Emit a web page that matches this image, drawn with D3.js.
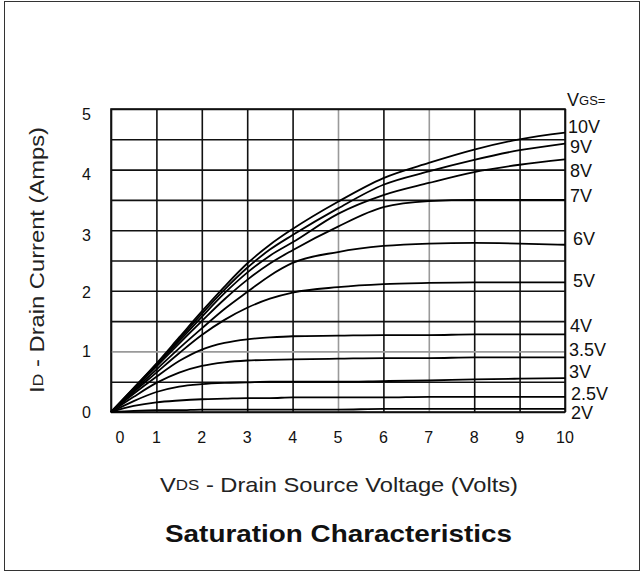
<!DOCTYPE html>
<html>
<head>
<meta charset="utf-8">
<script src="https://cdn.jsdelivr.net/npm/d3@7"></script>
<style>
html,body{margin:0;padding:0;background:#fff;}
svg{display:block;font-family:"Liberation Sans",Arial,sans-serif;}
</style>
</head>
<body>
<svg id="chart" width="644" height="573"></svg>
<script>
// ---- data ----
const vds = [0, 0.5, 1, 1.5, 2, 2.5, 3, 3.5, 4, 5, 6, 7, 8, 9, 10];
const vgsLabels = ["10V","9V","8V","7V","6V","5V","4V","3.5V","3V","2.5V","2V"];
const id10  = [0, 0.40, 0.80, 1.23, 1.66, 2.07, 2.45, 2.76, 3.02, 3.47, 3.86, 4.11, 4.33, 4.50, 4.61];
const id9   = [0, 0.39, 0.79, 1.20, 1.62, 2.02, 2.38, 2.68, 2.92, 3.36, 3.75, 3.97, 4.16, 4.32, 4.43];
const id8   = [0, 0.38, 0.77, 1.17, 1.57, 1.96, 2.30, 2.58, 2.80, 3.27, 3.58, 3.78, 3.96, 4.08, 4.17];
const id7   = [0, 0.37, 0.75, 1.13, 1.50, 1.86, 2.18, 2.45, 2.67, 3.06, 3.38, 3.48, 3.50, 3.50, 3.50];
const id6   = [0, 0.35, 0.70, 1.05, 1.38, 1.70, 1.98, 2.25, 2.46, 2.64, 2.74, 2.78, 2.79, 2.78, 2.76];
const id5   = [0, 0.33, 0.65, 0.97, 1.27, 1.52, 1.72, 1.87, 1.97, 2.06, 2.11, 2.13, 2.14, 2.14, 2.14];
const id4   = [0, 0.30, 0.58, 0.84, 1.03, 1.14, 1.20, 1.23, 1.25, 1.26, 1.27, 1.27, 1.28, 1.28, 1.28];
const id35  = [0, 0.25, 0.48, 0.65, 0.76, 0.82, 0.85, 0.86, 0.87, 0.88, 0.89, 0.89, 0.90, 0.90, 0.90];
const id3   = [0, 0.18, 0.33, 0.42, 0.46, 0.48, 0.49, 0.50, 0.50, 0.50, 0.51, 0.52, 0.54, 0.55, 0.56];
const id25  = [0, 0.10, 0.16, 0.19, 0.21, 0.22, 0.23, 0.23, 0.24, 0.24, 0.24, 0.25, 0.25, 0.25, 0.25];
const id2   = [0, 0.02, 0.03, 0.03, 0.04, 0.04, 0.04, 0.04, 0.04, 0.04, 0.05, 0.05, 0.05, 0.05, 0.05];
const seriesValues = [id10, id9, id8, id7, id6, id5, id4, id35, id3, id25, id2];
const xTickLabels = [0,1,2,3,4,5,6,7,8,9,10];
const yTickLabels = [0,1,2,3,4,5];
const yGrid = [0,0.5,1,1.5,2,2.5,3,3.5,4,4.5,5];
const greyX = [5,7];
const greyY = [1];
// label positions (in Amps) at right side
const labelPos = [4.70, 4.37, 3.98, 3.56, 2.85, 2.16, 1.42, 1.02, 0.66, 0.30, -0.02];

// ---- layout ----
const svg = d3.select("#chart");
const L = 111, R = 565, T = 109, B = 412;
const x = d3.scaleLinear().domain([0,10]).range([L,R]);
const y = d3.scaleLinear().domain([0,5]).range([B,T]);

// outer frame
svg.append("rect").attr("x",4.5).attr("y",1.5).attr("width",635).attr("height",569)
  .attr("fill","none").attr("stroke","#333").attr("stroke-width",1);

// grid via axes
const gx = svg.append("g").attr("transform",`translate(0,${B})`)
  .call(d3.axisBottom(x).tickValues(xTickLabels).tickSize(-(B-T)).tickFormat(""));
gx.select(".domain").remove();
gx.selectAll(".tick line").attr("stroke", d => greyX.includes(d) ? "#9a9a9a" : "#111").attr("stroke-width",1.6);

const gy = svg.append("g").attr("transform",`translate(${L},0)`)
  .call(d3.axisLeft(y).tickValues(yGrid).tickSize(-(R-L)).tickFormat(""));
gy.select(".domain").remove();
gy.selectAll(".tick line").attr("stroke", d => greyY.includes(d) ? "#9a9a9a" : "#111").attr("stroke-width",1.6);

// frame of plot
svg.append("rect").attr("x",L).attr("y",T).attr("width",R-L).attr("height",B-T)
  .attr("fill","none").attr("stroke","#111").attr("stroke-width",1.6);

// tick labels
svg.append("g").selectAll("text").data(xTickLabels).join("text")
  .attr("x", d => d===0 ? x(d)+9 : x(d)).attr("y", 437)
  .attr("dominant-baseline","central")
  .attr("text-anchor","middle").attr("font-size",16).attr("fill","#111").text(d=>d);
svg.append("g").selectAll("text").data(yTickLabels).join("text")
  .attr("x", 91).attr("y", d => y(d) + (d===5 ? 5 : d>=3 ? 5 : d===2 ? 2 : 0))
  .attr("dominant-baseline","central")
  .attr("text-anchor","end").attr("font-size",16).attr("fill","#111").text(d=>d);

// curves
const line = d3.line().x((d,i)=>x(vds[i])).y(d=>y(d)).curve(d3.curveMonotoneX);
svg.append("g").selectAll("path").data(seriesValues).join("path")
  .attr("d", line).attr("fill","none").attr("stroke","#000").attr("stroke-width",1.8);

// right labels
const rl = svg.append("g");
const vg = rl.append("text").attr("x",567).attr("y",100).attr("dominant-baseline","central")
  .attr("font-size",18).attr("fill","#111");
vg.append("tspan").text("V");
vg.append("tspan").attr("font-size",13).text("GS=");
rl.selectAll("text.v").data(vgsLabels).join("text").attr("class","v")
  .attr("x",(d,i)=> [568,570,570,570,573,573,570,569,569,571,571][i])
  .attr("y",(d,i)=> y(labelPos[i]))
  .attr("dominant-baseline","central")
  .attr("font-size",18).attr("fill","#111").text(d=>d);

// axis titles
const xt = svg.append("text").attr("x",160).attr("y",484).attr("dominant-baseline","central")
  .attr("font-size",21).attr("fill","#222")
  .attr("textLength",358).attr("lengthAdjust","spacingAndGlyphs");
xt.append("tspan").text("V");
xt.append("tspan").attr("font-size",15).text("DS");
xt.append("tspan").text(" - Drain Source Voltage (Volts)");

const yt = svg.append("text").attr("transform","translate(37,393) rotate(-90)")
  .attr("dominant-baseline","central")
  .attr("font-size",20).attr("fill","#222")
  .attr("textLength",266).attr("lengthAdjust","spacingAndGlyphs");
yt.append("tspan").text("I");
yt.append("tspan").attr("font-size",15).text("D");
yt.append("tspan").text(" - Drain Current (Amps)");

svg.append("text").attr("x",165).attr("y",533).attr("dominant-baseline","central")
  .attr("font-size",24).attr("font-weight","bold").attr("fill","#111")
  .attr("textLength",347).attr("lengthAdjust","spacingAndGlyphs")
  .text("Saturation Characteristics");
</script>
</body>
</html>
